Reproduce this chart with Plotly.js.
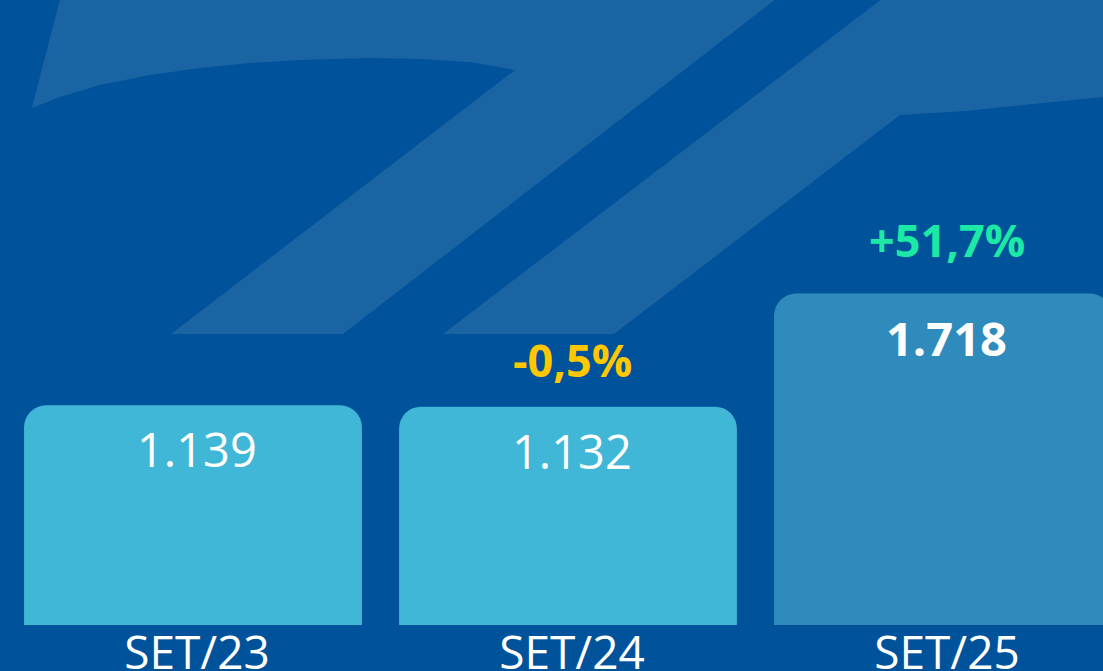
<!DOCTYPE html>
<html>
<head>
<meta charset="utf-8">
<script src="https://cdn.plot.ly/plotly-3.0.1.min.js"></script>
<style>html,body{margin:0;padding:0;background:#00529B;overflow:hidden}#chart{width:1103px;height:671px}</style>
</head>
<body>
<div id="chart"></div>
<script>
// ---- data ----
const categories = ["SET/23", "SET/24", "SET/25"];
const values = [1139, 1132, 1718];
const valueLabels = ["1.139", "1.132", "1.718"];
const changeLabels = ["", "-0,5%", "+51,7%"];

// ---- styles ----
const barColors = ["#41B7D7", "#41B7D7", "#2E8BBB"];
const labelWeights = ["normal", "normal", "bold"];
const changeColors = ["#FFC700", "#FFC700", "#1DE9A6"];
const changeShift = [0, 15, 22];

const W = 1103, H = 671, MB = 46, PH = H - MB;
function P(x, y) { return (x / W).toFixed(5) + "," + ((PH - y) / PH).toFixed(5); }
function pathOf(pts) { return "M" + pts.map(p => P(p[0], p[1])).join(" L") + " Z"; }

const polyA = [[61,-5],[781,-5],[343,334],[171,334],[515,70],[470,62],[420,59],[370,58],
  [300,60],[250,63],[200,68],[150,75],[100,85],[60,97],[32,108]];
const polyB = [[887,-5],[1110,-5],[1110,96],[1103,97],[1033,104],[966,111],[900,115],[614,334],[443,334]];

const shapes = [polyA, polyB].map(pts => ({
  type: "path", xref: "paper", yref: "paper", layer: "below",
  path: pathOf(pts), fillcolor: "#1A64A3", line: {width: 0}
}));

const annotations = [];
categories.forEach((c, i) => {
  annotations.push({
    x: c, y: values[i], xref: "x", yref: "y", text: valueLabels[i],
    showarrow: false, yanchor: "middle", yshift: -44, xshift: 4,
    font: {family: "Open Sans", size: 47, color: "#FFFFFF", weight: labelWeights[i]}
  });
  if (changeLabels[i]) {
    annotations.push({
      x: c, y: values[i], xref: "x", yref: "y", text: "<b>" + changeLabels[i] + "</b>",
      showarrow: false, yanchor: "bottom", yshift: changeShift[i], xshift: 4,
      font: {family: "Open Sans", size: 45, color: changeColors[i]}
    });
  }
});

const trace = {
  type: "bar", x: categories, y: values,
  marker: {color: barColors, cornerradius: 22, line: {width: 0}},
  hoverinfo: "skip"
};

const layout = {
  width: W, height: H,
  margin: {l: 0, r: 0, t: 0, b: MB, pad: 0},
  paper_bgcolor: "#00529B", plot_bgcolor: "rgba(0,0,0,0)",
  bargap: 0.099,
  showlegend: false,
  xaxis: {
    type: "category", range: [-0.5147, 2.4267], fixedrange: true,
    showgrid: false, zeroline: false, showline: false, ticks: "",
    tickfont: {family: "Open Sans", size: 46, color: "#FFFFFF"},
    ticklabelstandoff: -3, ticklabelshift: 4
  },
  yaxis: {
    range: [0, 3240], visible: false, showgrid: false, zeroline: false, fixedrange: true
  },
  shapes: shapes,
  annotations: annotations
};

Plotly.newPlot("chart", [trace], layout, {displayModeBar: false, staticPlot: true});
</script>
</body>
</html>
